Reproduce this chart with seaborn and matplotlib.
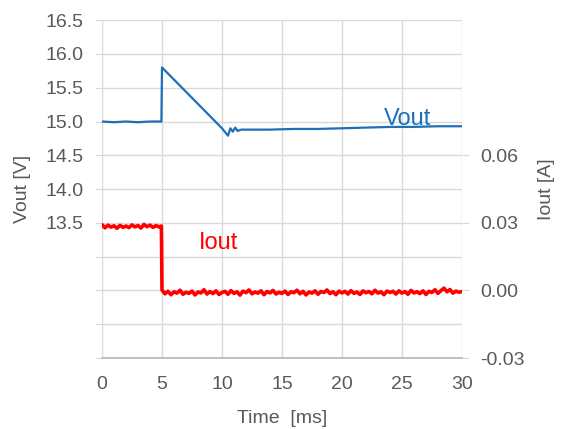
import numpy as np
import pandas as pd
import matplotlib
matplotlib.use('Agg')
import matplotlib.pyplot as plt
import seaborn as sns

# Vout trace [ms], [V]
vout_t = [0, 1, 2, 3, 4, 4.95, 5.0, 6, 7, 8, 9, 10, 10.5, 10.7, 10.9, 11.1, 11.3, 11.6, 12, 14, 16, 18, 20, 22, 24, 26, 28, 30]
vout_v = [15.0, 14.99, 15.0, 14.99, 15.0, 15.0, 15.8, 15.62, 15.44, 15.26, 15.08, 14.9, 14.79, 14.9, 14.85, 14.91, 14.86, 14.88, 14.88, 14.88, 14.89, 14.89, 14.9, 14.91, 14.92, 14.92, 14.93, 14.93]

# Iout trace [ms], [A]
iout_t = [0, 0.25, 0.5, 0.75, 1, 1.25, 1.5, 1.75, 2, 2.25, 2.5, 2.75, 3, 3.25, 3.5, 3.75, 4, 4.25, 4.5, 4.75, 4.95,
          5, 5.25, 5.5, 5.75, 6, 6.25, 6.5, 6.75, 7, 7.25, 7.5, 7.75, 8, 8.25, 8.5, 8.75, 9, 9.25, 9.5, 9.75,
          10, 10.25, 10.5, 10.75, 11, 11.25, 11.5, 11.75, 12, 12.25, 12.5, 12.75, 13, 13.25, 13.5, 13.75, 14, 14.25, 14.5, 14.75,
          15, 15.25, 15.5, 15.75, 16, 16.25, 16.5, 16.75, 17, 17.25, 17.5, 17.75, 18, 18.25, 18.5, 18.75, 19, 19.25, 19.5, 19.75,
          20, 20.25, 20.5, 20.75, 21, 21.25, 21.5, 21.75, 22, 22.25, 22.5, 22.75, 23, 23.25, 23.5, 23.75, 24, 24.25, 24.5, 24.75,
          25, 25.25, 25.5, 25.75, 26, 26.25, 26.5, 26.75, 27, 27.25, 27.5, 27.75, 28, 28.25, 28.5, 28.75, 29, 29.25, 29.5, 29.75,
          30]
iout_a = [0.0292, 0.0278, 0.0290, 0.0281, 0.0287, 0.0276, 0.0289, 0.0280, 0.0286, 0.0279, 0.0291, 0.0282, 0.0288, 0.0277, 0.0293, 0.0283, 0.0290, 0.0280, 0.0288, 0.0282, 0.0286,
          0.0002, -0.0015, -0.0004, -0.0019, -0.0006, -0.0012, 0.0001, -0.0017, -0.0008, -0.0013, -0.0003, -0.0020, -0.0007, -0.0011, 0.0003, -0.0016, -0.0005, -0.0014, -0.0002, -0.0018,
          -0.0009, -0.0004, -0.0017, -0.0001, -0.0013, -0.0006, -0.0021, -0.0003, -0.0010, 0.0002, -0.0015, -0.0007, -0.0012, -0.0002, -0.0019, -0.0005, -0.0011, 0.0000, -0.0016, -0.0008,
          -0.0013, -0.0003, -0.0018, -0.0006, -0.0010, 0.0001, -0.0015, -0.0004, -0.0020, -0.0007, -0.0012, -0.0002, -0.0017, -0.0005, -0.0009, 0.0002, -0.0014, -0.0006, -0.0019, -0.0003,
          -0.0011, -0.0004, -0.0016, -0.0001, -0.0013, -0.0007, -0.0018, -0.0002, -0.0010, -0.0005, -0.0015, 0.0001, -0.0012, -0.0006, -0.0019, -0.0003, -0.0009, -0.0004, -0.0016, -0.0002,
          -0.0012, -0.0005, -0.0017, 0.0000, -0.0011, -0.0006, -0.0014, -0.0002, -0.0018, -0.0004, -0.0009, 0.0003, -0.0013, -0.0001, 0.0010, -0.0006, 0.0004, -0.0012, -0.0003, -0.0008,
          -0.0005]

x_ticks = [0, 5, 10, 15, 20, 25, 30]
v_ticks = [11.5, 12.0, 12.5, 13.0, 13.5, 14.0, 14.5, 15.0, 15.5, 16.0, 16.5]
i_ticks = [-0.03, 0.00, 0.03, 0.06]

gray = '#595959'
grid_c = '#d9d9d9'
blue = '#1f6fb8'
red = '#ff0000'

sns.set_style('white')
plt.rcParams['font.family'] = ['Liberation Sans', 'DejaVu Sans']

fig = plt.figure(figsize=(5.62, 4.29), dpi=100)
ax = fig.add_axes([0.1815, 0.1655, 0.6405, 0.7875])
ax2 = ax.twinx()

dv = pd.DataFrame({'t': vout_t, 'v': vout_v})
di = pd.DataFrame({'t': iout_t, 'i': iout_a})

sns.lineplot(data=dv, x='t', y='v', ax=ax, color=blue, linewidth=1.6, zorder=3)
sns.lineplot(data=di, x='t', y='i', ax=ax2, color=red, linewidth=2.6, zorder=3)

# left axis
ax.set_xlim(0, 30)
ax.set_ylim(11.5, 16.5)
ax.set_xticks(x_ticks)
ax.set_yticks(v_ticks)
ax.set_yticklabels(['' if v < 13.5 else f'{v:.1f}' for v in v_ticks])
ax.grid(True, color=grid_c, linewidth=1.0)
ax.set_axisbelow(True)
ax.tick_params(axis='y', length=5, color=grid_c, labelsize=14, labelcolor=gray, pad=8)
ax.tick_params(axis='x', length=0, labelsize=14, labelcolor=gray, pad=13)
ax.set_xlabel('Time  [ms]', color=gray, fontsize=14, labelpad=12)
ax.set_ylabel('Vout [V]', color=gray, fontsize=14, labelpad=11)

# right axis
ax2.set_ylim(-0.03, 0.12)
ax2.set_yticks(i_ticks)
ax2.set_yticklabels([f'{v:.2f}' for v in i_ticks])
ax2.tick_params(axis='y', length=5, color=grid_c, labelsize=14, labelcolor=gray, pad=8)
ax2.set_ylabel('Iout [A]', color=gray, fontsize=14, labelpad=10)
ax2.set_xlabel('')

for a in (ax, ax2):
    for s in ['top', 'left', 'right']:
        a.spines[s].set_visible(False)
    a.spines['bottom'].set_color('#bfbfbf')
    a.spines['bottom'].set_linewidth(1.2)

# in-plot labels
ax.text(25.5, 14.95, 'Vout', color=blue, fontsize=17, ha='center', va='baseline')
ax2.text(9.7, 0.021, 'Iout', color=red, fontsize=17, ha='center', va='center')

plt.savefig('out.png', dpi=100)
